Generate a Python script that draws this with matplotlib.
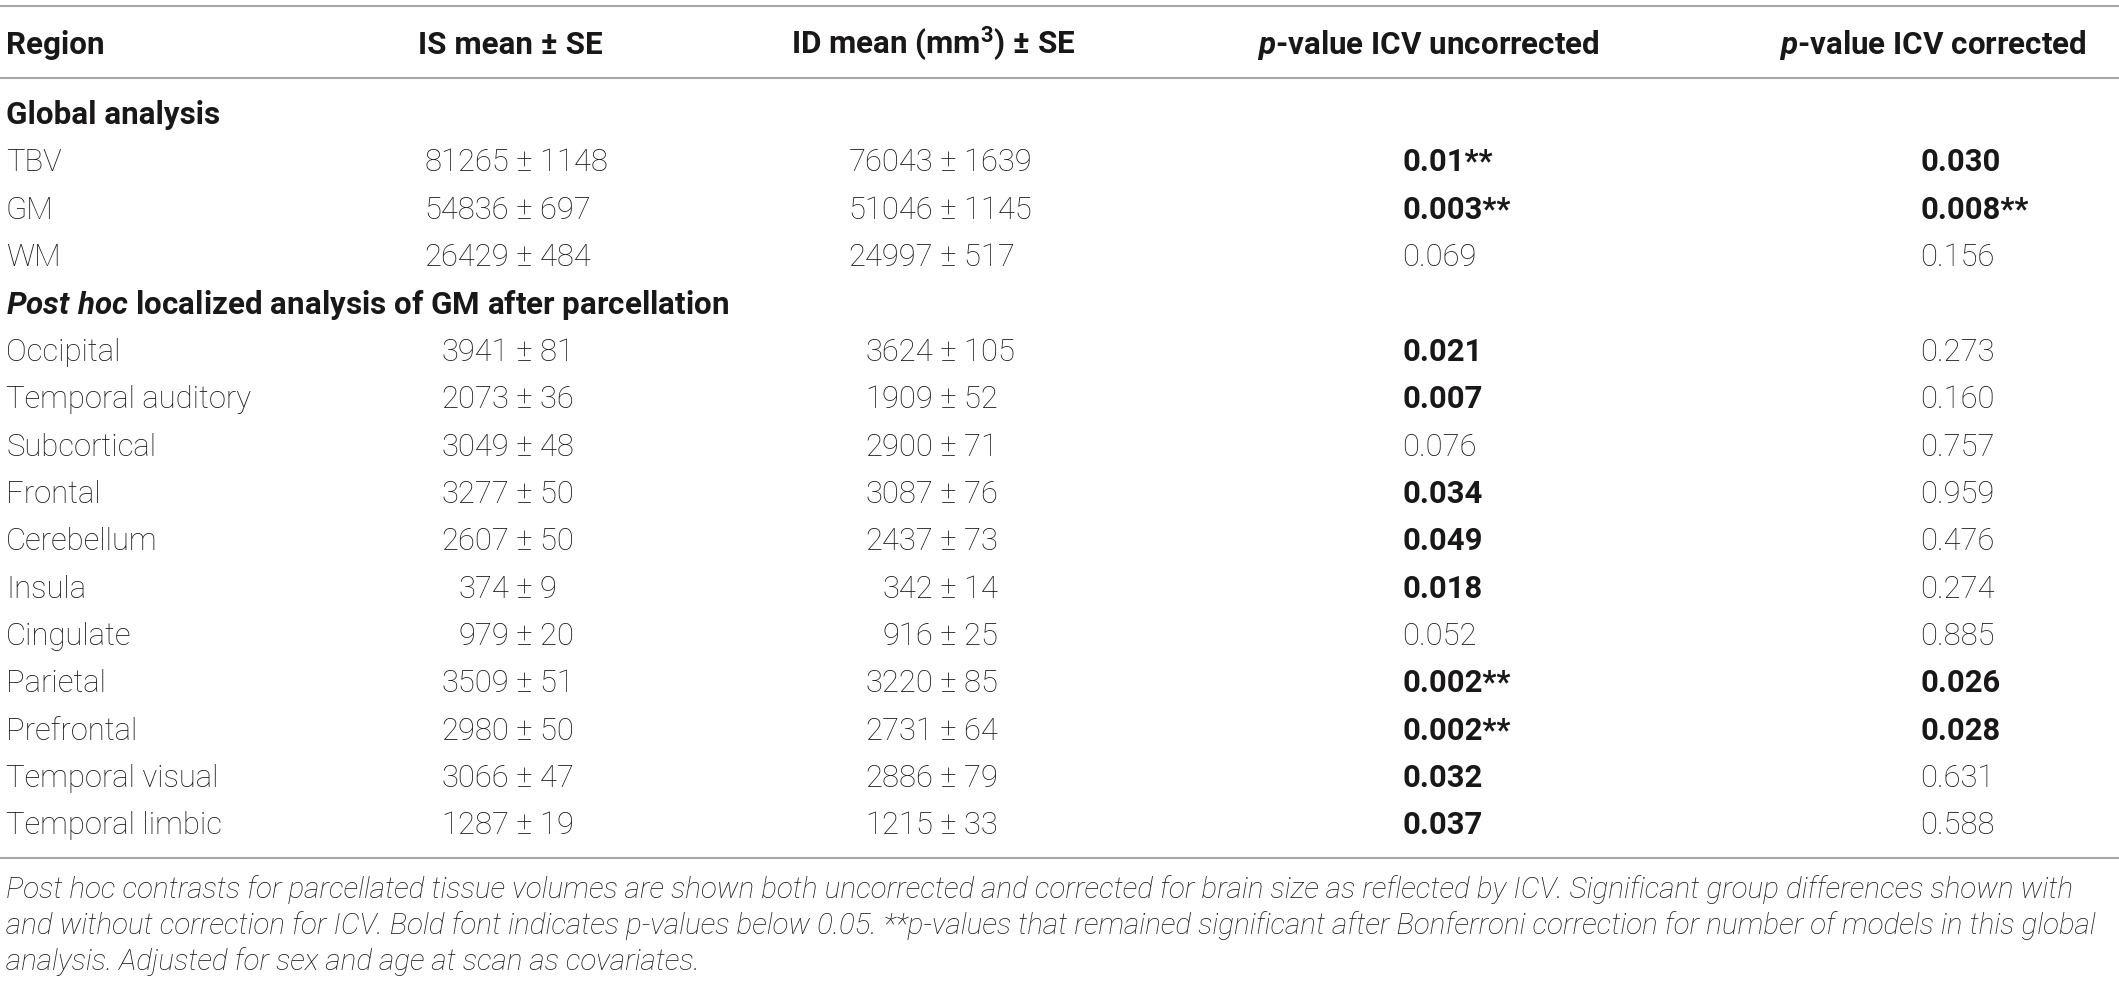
import matplotlib
matplotlib.use("Agg")
import matplotlib.pyplot as plt

plt.rcParams['font.family'] = ['Roboto', 'DejaVu Sans']
plt.rcParams['mathtext.fontset'] = 'custom'
plt.rcParams['mathtext.rm'] = 'Roboto:bold'
plt.rcParams['mathtext.bf'] = 'Roboto:bold'
plt.rcParams['mathtext.it'] = 'Roboto:italic:bold'
plt.rcParams['mathtext.bfit'] = 'Roboto:italic:bold'

# table data
headers = ["Region", "IS mean ± SE", r"ID mean (mm$^{\mathbf{3}}$) ± SE",
           r"$\mathbfit{p}$-value ICV uncorrected", r"$\mathbfit{p}$-value ICV corrected"]
section_global = "Global analysis"
section_posthoc = r"$\mathbfit{Post\ hoc}$ localized analysis of GM after parcellation"

regions_global = ["TBV", "GM", "WM"]
is_mean_global = [81265, 54836, 26429]
is_se_global = [1148, 697, 484]
id_mean_global = [76043, 51046, 24997]
id_se_global = [1639, 1145, 517]
p_unc_global = ["0.01", "0.003", "0.069"]
p_cor_global = ["0.030", "0.008", "0.156"]
star_unc_global = [True, True, False]
star_cor_global = [False, True, False]

regions_local = ["Occipital", "Temporal auditory", "Subcortical", "Frontal", "Cerebellum",
                 "Insula", "Cingulate", "Parietal", "Prefrontal", "Temporal visual",
                 "Temporal limbic"]
is_mean_local = [3941, 2073, 3049, 3277, 2607, 374, 979, 3509, 2980, 3066, 1287]
is_se_local = [81, 36, 48, 50, 50, 9, 20, 51, 50, 47, 19]
id_mean_local = [3624, 1909, 2900, 3087, 2437, 342, 916, 3220, 2731, 2886, 1215]
id_se_local = [105, 52, 71, 76, 73, 14, 25, 85, 64, 79, 33]
p_unc_local = ["0.021", "0.007", "0.076", "0.034", "0.049", "0.018", "0.052",
               "0.002", "0.002", "0.032", "0.037"]
p_cor_local = ["0.273", "0.160", "0.757", "0.959", "0.476", "0.274", "0.885",
               "0.026", "0.028", "0.631", "0.588"]
star_unc_local = [False] * 7 + [True, True, False, False]
star_cor_local = [False] * 11

caption = [
    "Post hoc contrasts for parcellated tissue volumes are shown both uncorrected and corrected for brain size as reflected by ICV. Significant group differences shown with",
    "and without correction for ICV. Bold font indicates p-values below 0.05. **p-values that remained significant after Bonferroni correction for number of models in this global",
    "analysis. Adjusted for sex and age at scan as covariates.",
]

W, H = 2119, 983
fig = plt.figure(figsize=(W / 100, H / 100), dpi=100)
ax = fig.add_axes([0, 0, 1, 1])
ax.set_xlim(0, W)
ax.set_ylim(H, 0)
ax.axis('off')

ink = '#1a1718'
rule = '#a8a8a8'
fs = 22.3
fs_head = 22.6
fs_cap = 21.3
base = 10.5  # baseline offset from row centre (px)

x_region = 6
x_is_pm, x_id_pm = 518, 942
x_unc, x_cor = 1402, 1920
head_x = [x_region, 510, 933, 1428, 1933]
head_ha = ['left', 'center', 'center', 'center', 'center']

for y in (6, 78, 858):
    ax.plot([0, W], [y, y], color=rule, lw=1.5, solid_capstyle='butt')

for txt, x, ha in zip(headers, head_x, head_ha):
    ax.text(x, 43 + base, txt, ha=ha, va='baseline', fontsize=fs_head,
            fontweight='bold', color=ink)


def mean_se(x_pm, y, m, s):
    ax.text(x_pm - 9, y + base, f"{m}", ha='right', va='baseline', fontsize=fs,
            fontweight='light', color=ink)
    ax.text(x_pm - 9, y + base, f" ± {s}", ha='left', va='baseline', fontsize=fs,
            fontweight='light', color=ink)


def pval(x, y, p, star):
    w = 'bold' if float(p) < 0.05 else 'light'
    ax.text(x, y + base, p + ("**" if star else ""), ha='left', va='baseline',
            fontsize=fs, fontweight=w, color=ink)


def data_row(y, r, im, ise, dm, dse, pu, pc, su, sc):
    ax.text(x_region, y + base, r, ha='left', va='baseline', fontsize=fs,
            fontweight='light', color=ink)
    mean_se(x_is_pm, y, im, ise)
    mean_se(x_id_pm, y, dm, dse)
    pval(x_unc, y, pu, su)
    pval(x_cor, y, pc, sc)


step = 47.36
y0 = 113.6
ax.text(x_region, y0 + base, section_global, ha='left', va='baseline', fontsize=fs_head,
        fontweight='bold', color=ink)

rows = zip(regions_global, is_mean_global, is_se_global, id_mean_global, id_se_global,
           p_unc_global, p_cor_global, star_unc_global, star_cor_global)
for i, row in enumerate(rows):
    data_row(y0 + step * (i + 1), *row)

y_sec = y0 + step * 4
ax.text(x_region, y_sec + base, section_posthoc, ha='left', va='baseline', fontsize=fs_head,
        fontweight='bold', color=ink)

rows = zip(regions_local, is_mean_local, is_se_local, id_mean_local, id_se_local,
           p_unc_local, p_cor_local, star_unc_local, star_cor_local)
for i, row in enumerate(rows):
    data_row(y_sec + step * (i + 1), *row)

for k, line in enumerate(caption):
    ax.text(x_region, 887 + 36.5 * k + base, line, ha='left', va='baseline',
            fontsize=fs_cap, fontstyle='italic', fontweight='light', color=ink)

fig.savefig("out.png", dpi=100)
